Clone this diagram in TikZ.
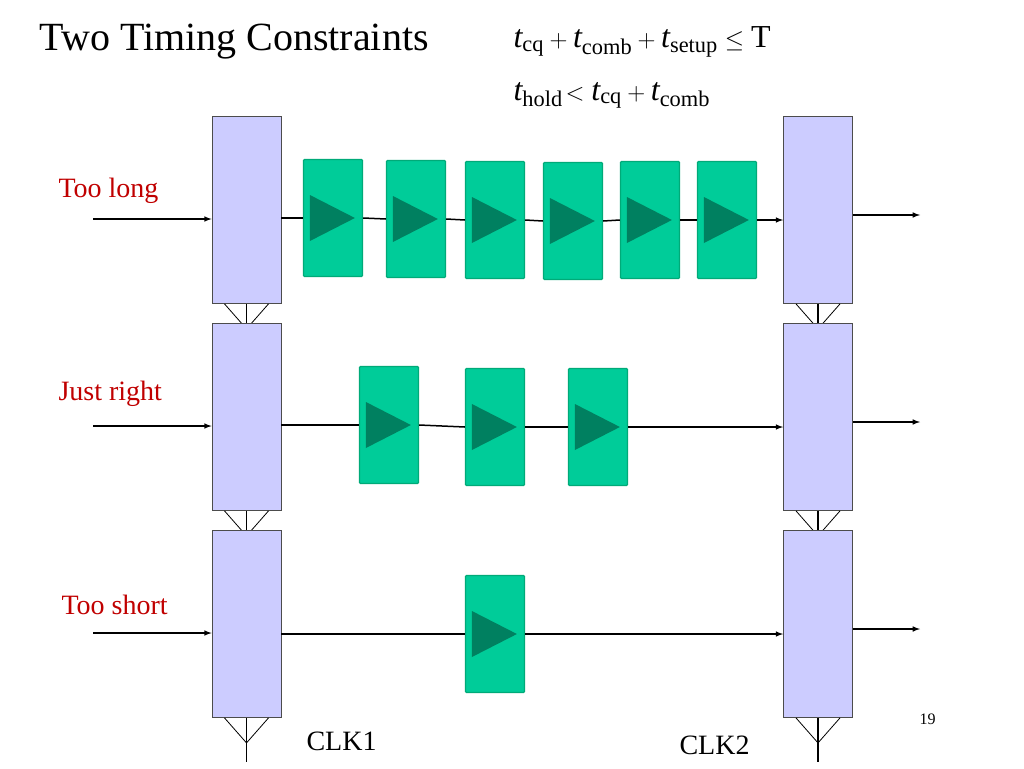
\documentclass[tikz,border=0pt]{standalone}
\usepackage{fontspec}
\setmainfont{Liberation Serif}
\definecolor{regc}{RGB}{204,204,255}
\definecolor{bufd}{RGB}{0,170,120}
\definecolor{buff}{RGB}{0,204,153}
\definecolor{trif}{RGB}{0,128,96}
\definecolor{redc}{RGB}{192,0,0}
\begin{document}
\begin{tikzpicture}[x=1pt,y=-1pt,
 reg/.style={draw=black!70,fill=regc,minimum width=69pt,minimum height=187pt,inner sep=0,line width=0.8pt},
 buf/.style={draw=bufd,fill=buff,minimum width=59pt,minimum height=117pt,inner sep=0,line width=1.2pt,rounded corners=1pt},
 wire/.style={line width=1.5pt},
 arr/.style={line width=1.5pt,-latex},
 lbl/.style={text=redc,font=\fontsize{28}{30}\selectfont}]
\useasboundingbox (0,0) rectangle (1024,768);
\node[anchor=base west,font=\fontsize{40}{44}\selectfont] (title) at (36,50) {Two Timing Constraints};
\node[anchor=base west,font=\fontsize{32}{36}\selectfont] (f1) at (510,48) {$\mathit{t}_{\mathrm{cq}}+\mathit{t}_{\mathrm{comb}}+\mathit{t}_{\mathrm{setup}}\le\mathrm{T}$};
\node[anchor=base west,font=\fontsize{32}{36}\selectfont] (f2) at (510,100) {$\mathit{t}_{\mathrm{hold}}\!<\mathit{t}_{\mathrm{cq}}+\mathit{t}_{\mathrm{comb}}$};
\foreach \r/\yc in {1/210,2/417,3/624}{
 \node[reg] (L\r) at (246.5,\yc) {};
 \node[reg] (R\r) at (818,\yc) {};
 \foreach \s in {L,R}{
  \draw[line width=0.8pt] ([xshift=-22pt]\s\r.south) -- ([yshift=-25pt]\s\r.south) -- ([xshift=22pt]\s\r.south);}
 \coordinate (in\r) at (93,\yc+9);
 \coordinate (out\r) at (920,\yc+5);
 \draw[arr] (in\r) -- (L\r.west|-in\r);
 \draw[arr] (R\r.east|-out\r) -- (out\r);
}
\node[lbl,anchor=base west] (t1) at (55,197) {Too long};
\node[lbl,anchor=base west] (t2) at (55,400) {Just right};
\node[lbl,anchor=base west] (t3) at (58,614) {Too short};
\newcommand{\mybuf}[3]{\node[buf] (#1) at (#2,#3) {};
 \fill[trif] (#1.west) ++(7pt,-23pt) -- ++(0,46pt) -- ++(45pt,-23pt) -- cycle;}
\foreach \i/\x/\y in {a/333/218,b/416/219,c/495/220,d/573/221,e/650/220,f/727/220}{\mybuf{\i}{\x}{\y}}
\foreach \i/\x/\y in {g/389/425,h/495/427,k/598/427}{\mybuf{\i}{\x}{\y}}
\mybuf{m}{495}{634}
\draw[wire] (L1.east|-a) -- (a.west); \draw[wire] (a.east) -- (b.west); \draw[wire] (b.east) -- (c.west); \draw[wire] (c.east) -- (d.west); \draw[wire] (d.east) -- (e.west); \draw[wire] (e.east) -- (f.west);
\draw[arr] (f.east) -- (R1.west|-f);
\draw[wire] (L2.east|-g) -- (g.west); \draw[wire] (g.east) -- (h.west); \draw[wire] (h.east) -- (k.west);
\draw[arr] (k.east) -- (R2.west|-k);
\draw[wire] (L3.east|-m) -- (m.west);
\draw[arr] (m.east) -- (R3.west|-m);
\foreach \s in {L,R}{
 \draw[wire] (\s1.south) -- (\s2.north);
 \draw[wire] (\s2.south) -- (\s3.north);
 \coordinate (\s clk) at (\s3.south|-0,762);
 \draw[wire] (\s3.south) -- (\s clk);}
\node[anchor=base west,font=\fontsize{28}{30}\selectfont] (c1) at (303,750) {CLK1};
\node[anchor=base west,font=\fontsize{28}{30}\selectfont] (c2) at (676,754) {CLK2};
\node[anchor=base west,font=\fontsize{16}{18}\selectfont] (pg) at (916,724) {19};
\end{tikzpicture}
\end{document}
